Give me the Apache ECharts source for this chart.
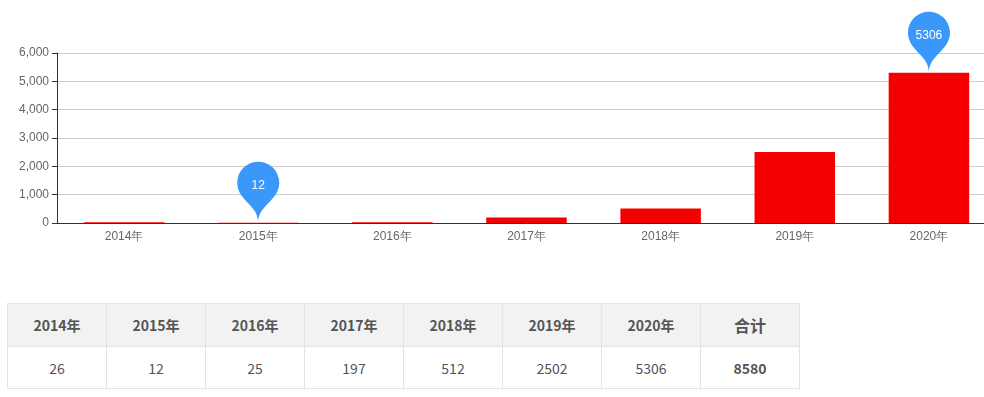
<!DOCTYPE html>
<html>
<head>
<meta charset="utf-8">
<script src="https://cdn.jsdelivr.net/npm/echarts@6/dist/echarts.min.js"></script>
<style>
  body { margin: 0; background: #fff; font-family: "Noto Sans CJK SC", "Noto Sans", sans-serif; overflow: hidden; }
  #chart { width: 996px; height: 260px; }
  table { border-collapse: collapse; margin: 43px 0 0 7px; table-layout: fixed; width: 793px; }
  th, td { border: 1px solid #e4e4e4; padding: 0; text-align: center; color: #555; font-size: 14px; }
  th { background: #f2f2f2; height: 42px; font-weight: bold; }
  th.total { font-size: 16px; }
  td { height: 41px; }
  td.total { font-weight: bold; }
</style>
</head>
<body>
<div id="chart"></div>
<table id="tbl"></table>
<script>
var years = ["2014年", "2015年", "2016年", "2017年", "2018年", "2019年", "2020年"];
var counts = [26, 12, 25, 197, 512, 2502, 5306];
var totalLabel = "合计";

var chart = echarts.init(document.getElementById("chart"));
var option = {
  animation: false,
  grid: { left: 57, right: 0, top: 53, bottom: 37 },
  xAxis: {
    type: "category",
    data: years,
    axisLine: { lineStyle: { color: "#333" } },
    axisTick: { lineStyle: { color: "#333" } },
    axisLabel: { color: "#666", fontSize: 12 }
  },
  yAxis: {
    type: "value",
    min: 0,
    max: 6000,
    interval: 1000,
    axisLine: { show: true, lineStyle: { color: "#333" } },
    axisTick: { show: true, lineStyle: { color: "#333" } },
    axisLabel: { color: "#666", fontSize: 12 },
    splitLine: { lineStyle: { color: "#ccc" } }
  },
  series: [
    {
      type: "bar",
      data: counts,
      barWidth: "60%",
      itemStyle: { color: "#f50000" },
      markPoint: {
        symbolSize: 70,
        itemStyle: { color: "#3a98fa" },
        label: { color: "#fff", fontSize: 12 },
        data: [
          { type: "max" },
          { type: "min" }
        ]
      }
    }
  ]
};
chart.setOption(option);

// table
var tbl = document.getElementById("tbl");
var head = "<tr>";
var body = "<tr>";
var sum = 0;
for (var i = 0; i < years.length; i++) {
  head += "<th>" + years[i] + "</th>";
  body += "<td>" + counts[i] + "</td>";
  sum += counts[i];
}
head += "<th class='total'>" + totalLabel + "</th></tr>";
body += "<td class='total'>" + sum + "</td></tr>";
tbl.innerHTML = head + body;
</script>
</body>
</html>
